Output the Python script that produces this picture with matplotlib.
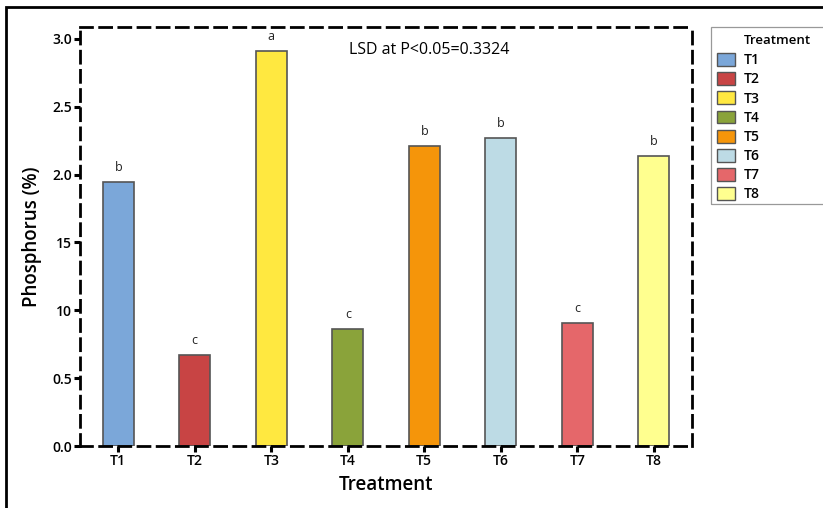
import matplotlib
matplotlib.use('Agg')
import matplotlib.pyplot as plt
from matplotlib.patches import Rectangle, Patch
import numpy as np

plt.rcParams['font.family'] = ['Open Sans', 'DejaVu Sans']

treatments = ['T1', 'T2', 'T3', 'T4', 'T5', 'T6', 'T7', 'T8']
phosphorus = [1.946, 0.671, 2.911, 0.862, 2.211, 2.270, 0.907, 2.138]
letters = ['b', 'c', 'a', 'c', 'b', 'b', 'c', 'b']
colors = ['#7BA7D9', '#C84444', '#FFE840', '#8AA33A',
          '#F5950A', '#BDDBE5', '#E5676A', '#FFFF8F']
yticks = [0.0, 0.5, 1.0, 1.5, 2.0, 2.5, 3.0]
ytick_labels = ['0.0', '0.5', '10', '15', '2.0', '2.5', '3.0']

fig = plt.figure(figsize=(8.23, 5.08), dpi=100)
ax = fig.add_axes([80/823, 1-446/508, 612/823, 419/508])

x = np.arange(1, len(treatments)+1)
ax.bar(x, phosphorus, width=0.41, color=colors, edgecolor='#555555', linewidth=1.2, zorder=2)
for xi, v, l in zip(x, phosphorus, letters):
    ax.text(xi, v + 0.06, l, ha='center', va='bottom', fontsize=9, color='#222222')

ax.set_xlim(0.5, 8.5)
ax.set_ylim(0, 3.088)
ax.set_xticks(x)
ax.set_xticklabels(treatments, fontsize=10, fontweight='semibold')
ax.set_yticks(yticks)
ax.set_yticklabels(ytick_labels, fontsize=10, fontweight='semibold')
ax.tick_params(axis='both', direction='out', length=4, width=2.2, colors='black', pad=2)

for s in ax.spines.values():
    s.set_linewidth(2.0)
    s.set_linestyle((0, (4.3, 2.6)))
    s.set_color('black')

ax.set_xlabel('Treatment', fontsize=13.5, fontweight='semibold', labelpad=5)
ax.set_ylabel('Phosphorus (%)', fontsize=13.5, fontweight='semibold', labelpad=7)

ax.text(0.57, 0.945, 'LSD at P<0.05=0.3324', transform=ax.transAxes,
        ha='center', va='center', fontsize=11.5)

# legend: frame and title drawn by hand, frame runs off the right edge
handles = [Patch(facecolor=c, edgecolor='#555555', linewidth=1.0) for c in colors]
leg = fig.legend(handles, treatments, loc='upper left',
                 bbox_to_anchor=(717/823, 1-53/508), frameon=False,
                 prop={'size': 10, 'weight': 'semibold'},
                 handlelength=1.3, handleheight=1.05, handletextpad=0.6,
                 labelspacing=0.36, borderpad=0, borderaxespad=0)
fig.text(744/823, 1-41/508, 'Treatment', ha='left', va='center',
         fontsize=9.5, fontweight='semibold')
fig.patches.append(Rectangle((711/823, 1-204/508), 0.2, 177/508, transform=fig.transFigure,
                             fill=False, edgecolor='#999999', linewidth=0.9))

# outer border of the original screenshot
fig.patches.append(Rectangle((6/823, -0.1), 1.2, 1-7/508+0.1, transform=fig.transFigure,
                             fill=False, edgecolor='black', linewidth=2.0, zorder=0))

fig.savefig('out.png', dpi=100)
